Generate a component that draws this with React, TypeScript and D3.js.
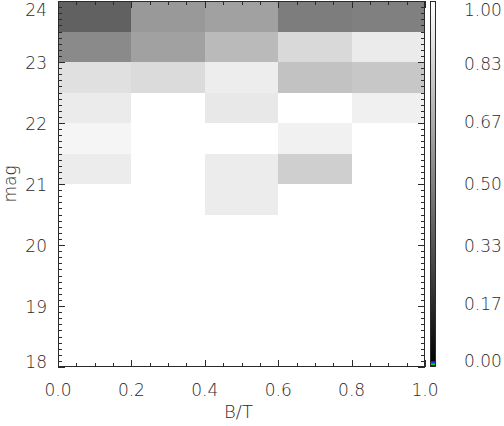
import React, { useEffect, useRef } from "react";
import { select, scaleLinear, axisTop, axisBottom, axisLeft, axisRight, range } from "d3";

// bin edges along B/T and lower edges of the 0.5 mag bins
const btEdges = [0.0, 0.2, 0.4, 0.6, 0.8, 1.0];
const magLows = [23.5, 23.0, 22.5, 22.0, 21.5, 21.0, 20.5, 20.0, 19.5, 19.0, 18.5, 18.0];

// fraction per cell, one row per mag bin (top to bottom), one value per B/T bin
const fraction = [
  [0.38, 0.6, 0.63, 0.49, 0.5],
  [0.54, 0.63, 0.73, 0.85, 0.92],
  [0.88, 0.86, 0.93, 0.76, 0.78],
  [0.92, 1.0, 0.91, 1.0, 0.94],
  [0.96, 1.0, 1.0, 0.945, 1.0],
  [0.925, 1.0, 0.925, 0.81, 1.0],
  [1.0, 1.0, 0.925, 1.0, 1.0],
  [1.0, 1.0, 1.0, 1.0, 1.0],
  [1.0, 1.0, 1.0, 1.0, 1.0],
  [1.0, 1.0, 1.0, 1.0, 1.0],
  [1.0, 1.0, 1.0, 1.0, 1.0],
  [1.0, 1.0, 1.0, 1.0, 1.0],
];

const xTicks = [0.0, 0.2, 0.4, 0.6, 0.8, 1.0];
const yTicks = [18, 19, 20, 21, 22, 23, 24];
const cbTicks = [0.0, 0.17, 0.33, 0.5, 0.67, 0.83, 1.0];
// colour table end entries shown at the foot of the bar
const cbSpecial = [
  { color: "#1f2fff", lo: 0.0074, hi: 0.0129 },
  { color: "#19d219", lo: 0.0019, hi: 0.0074 },
];

const FONT = "'DejaVu Sans', sans-serif";
const INK = "#2a2a2a";

function App() {
  const svgRef = useRef(null);

  useEffect(() => {
    const svg = select(svgRef.current);
    svg.selectAll("*").remove();

    const left = 58, right = 425, top = 1, bottom = 367;
    const xScale = scaleLinear().domain([0, 1]).range([left, right]);
    const yScale = scaleLinear().domain([18, 24]).range([bottom, top]);
    const gray = (v) => {
      const c = Math.round(v * 255);
      return `rgb(${c},${c},${c})`;
    };

    // cells
    const cells = [];
    fraction.forEach((row, i) => {
      row.forEach((v, j) => {
        cells.push({ x0: btEdges[j], x1: btEdges[j + 1], m0: magLows[i], m1: magLows[i] + 0.5, v });
      });
    });
    svg.append("g")
      .selectAll("rect")
      .data(cells)
      .join("rect")
      .attr("x", d => xScale(d.x0))
      .attr("width", d => xScale(d.x1) - xScale(d.x0))
      .attr("y", d => yScale(d.m1))
      .attr("height", d => yScale(d.m0) - yScale(d.m1))
      .attr("fill", d => gray(d.v))
      .attr("shape-rendering", "crispEdges");

    // ticks on all four sides, pointing inward
    const xMinor = range(0, 21).map(i => i * 0.05);
    const yMinor = range(0, 61).map(i => 18 + i * 0.1);
    const addTicks = (axis, tx, ty) => {
      const g = svg.append("g")
        .attr("transform", `translate(${tx},${ty})`)
        .attr("shape-rendering", "crispEdges")
        .call(axis);
      g.select(".domain").remove();
      g.selectAll("line").attr("stroke", INK);
      g.selectAll("text").remove();
    };
    [[4, xMinor], [7, xTicks]].forEach(([len, vals]) => {
      addTicks(axisTop(xScale).tickValues(vals).tickSize(len).tickFormat(() => ""), 0, bottom);
      addTicks(axisBottom(xScale).tickValues(vals).tickSize(len).tickFormat(() => ""), 0, top);
    });
    [[4, yMinor], [7, yTicks]].forEach(([len, vals]) => {
      addTicks(axisRight(yScale).tickValues(vals).tickSize(len).tickFormat(() => ""), left, 0);
      addTicks(axisLeft(yScale).tickValues(vals).tickSize(len).tickFormat(() => ""), right, 0);
    });

    // frame
    svg.append("rect")
      .attr("x", left + 0.5)
      .attr("y", top + 0.5)
      .attr("width", right - left - 1)
      .attr("height", bottom - top - 1)
      .attr("fill", "none")
      .attr("stroke", INK);

    // tick labels
    svg.append("g")
      .selectAll("text")
      .data(xTicks)
      .join("text")
      .attr("x", d => xScale(d))
      .attr("y", 396)
      .attr("text-anchor", "middle")
      .text(d => d.toFixed(1));

    const clampY = (py) => Math.max(top + 8.5, Math.min(bottom - 6, py));
    svg.append("g")
      .selectAll("text")
      .data(yTicks)
      .join("text")
      .attr("x", 47)
      .attr("y", d => clampY(yScale(d)) + 6.5)
      .attr("text-anchor", "end")
      .text(d => d);

    // axis titles
    svg.append("text")
      .attr("x", (left + right) / 2 - 3)
      .attr("y", 418)
      .attr("text-anchor", "middle")
      .style("font-size", "18px")
      .text("B/T");
    svg.append("text")
      .attr("transform", `translate(16,${(top + bottom) / 2}) rotate(-90)`)
      .attr("text-anchor", "middle")
      .text("mag");

    // colour bar
    const cbLeft = 430, cbRight = 436, cbTop = 1, cbBottom = 366;
    const cbScale = scaleLinear().domain([0, 1]).range([cbBottom, cbTop]);
    const defs = svg.append("defs");
    const grad = defs.append("linearGradient")
      .attr("id", "cbgrad")
      .attr("x1", 0).attr("y1", 1).attr("x2", 0).attr("y2", 0);
    grad.append("stop").attr("offset", 0).attr("stop-color", "#000");
    grad.append("stop").attr("offset", 1).attr("stop-color", "#fff");
    svg.append("rect")
      .attr("x", cbLeft)
      .attr("y", cbScale(1))
      .attr("width", cbRight - cbLeft)
      .attr("height", cbScale(0) - cbScale(1))
      .attr("fill", "url(#cbgrad)");
    svg.append("g")
      .selectAll("rect")
      .data(cbSpecial)
      .join("rect")
      .attr("x", cbLeft)
      .attr("width", cbRight - cbLeft)
      .attr("y", d => cbScale(d.hi))
      .attr("height", d => cbScale(d.lo) - cbScale(d.hi))
      .attr("fill", d => d.color);
    svg.append("rect")
      .attr("x", cbLeft + 0.5)
      .attr("y", cbTop + 0.5)
      .attr("width", cbRight - cbLeft - 1)
      .attr("height", cbBottom - cbTop)
      .attr("fill", "none")
      .attr("stroke", INK);

    const cbClamp = (py) => Math.max(9, Math.min(360, py));
    svg.append("g")
      .selectAll("text")
      .data(cbTicks)
      .join("text")
      .attr("x", 464)
      .attr("y", d => cbClamp(cbScale(d)) + 6.5)
      .attr("text-anchor", "start")
      .text(d => d.toFixed(2));

    svg.selectAll("text")
      .style("font-family", FONT)
      .style("font-weight", 200)
      .style("fill", INK);
    svg.selectAll("text:not([style*='18px'])").style("font-size", "17px");
  }, []);

  return (
    <svg
      ref={svgRef}
      width={504}
      height={426}
      style={{ position: "absolute", left: 0, top: 0, background: "#fff" }}
    />
  );
}

export default App;
